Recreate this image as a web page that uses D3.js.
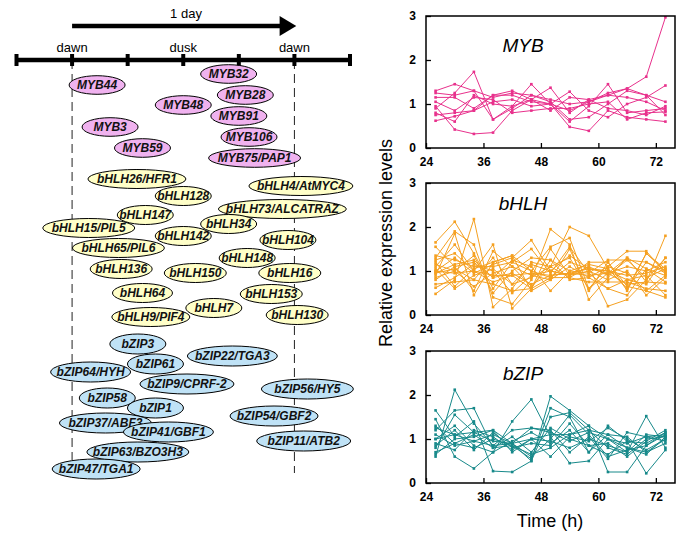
<!DOCTYPE html>
<html><head><meta charset="utf-8">
<script src="https://cdn.jsdelivr.net/npm/d3@7/dist/d3.min.js"></script>
<style>
body{margin:0;background:#fff;}
svg{display:block;font-family:"Liberation Sans",Arial,sans-serif;}
</style></head>
<body><div id="chart"></div>
<script>
// ---------- DATA ----------
const timeHours = [26,30,34,38,42,46,50,54,58,62,66,70,74];
const xTickValues = [24,36,48,60,72];
const yTickValues = [0,1,2,3];
const phaseTicks = [-6,0,6,12,18,24,30];
const phaseLabels = [{h:0,t:"dawn"},{h:12,t:"dusk"},{h:24,t:"dawn"}];

const mybGenes  = ["MYB32","MYB44","MYB28","MYB48","MYB91","MYB3","MYB106","MYB59","MYB75/PAP1"];
const mybPhase  = [16.9, 2.7, 18.7, 12.0, 18.0, 4.1, 19.1, 7.6, 19.7];
const bhlhGenes = ["bHLH26/HFR1","bHLH4/AtMYC4","bHLH128","bHLH73/ALCATRAZ","bHLH147","bHLH34","bHLH15/PIL5","bHLH142","bHLH104","bHLH65/PIL6","bHLH148","bHLH136","bHLH150","bHLH16","bHLH64","bHLH153","bHLH7","bHLH130","bHLH9/PIF4"];
const bhlhPhase = [7.0, 24.7, 12.0, 22.7, 7.9, 16.9, 1.8, 12.0, 23.3, 5.0, 18.9, 5.3, 13.3, 23.5, 7.6, 21.5, 15.3, 24.3, 8.5];
const bzipGenes = ["bZIP3","bZIP22/TGA3","bZIP61","bZIP64/HYH","bZIP9/CPRF-2","bZIP56/HY5","bZIP58","bZIP1","bZIP54/GBF2","bZIP37/ABF3","bZIP41/GBF1","bZIP11/ATB2","bZIP63/BZO3H3","bZIP47/TGA1"];
const bzipPhase = [7.1, 17.3, 9.0, 2.0, 12.4, 25.4, 3.8, 9.0, 21.8, 3.6, 10.4, 25.0, 7.1, 2.6];

const mybSeries = [
 [1.25,1.20,1.30,1.15,1.25,1.20,1.10,1.00,1.05,1.25,1.35,1.62,2.97],
 [0.90,1.25,1.73,0.65,0.90,1.20,1.05,0.65,0.70,1.00,1.30,1.20,0.75],
 [0.95,0.42,0.32,0.35,0.85,1.10,1.00,0.85,1.05,1.20,1.35,1.20,1.05],
 [1.30,1.45,1.30,0.65,0.95,1.45,1.00,0.60,0.95,1.45,0.80,0.85,0.90],
 [0.75,0.80,0.85,1.20,1.30,1.10,1.37,0.80,1.10,1.20,1.15,1.05,0.85],
 [0.62,0.72,0.85,1.05,1.10,0.95,1.00,1.28,0.85,0.70,1.00,1.15,1.42],
 [1.15,1.15,0.90,1.20,1.20,1.05,1.00,0.48,0.39,0.85,0.70,0.65,0.60],
 [1.05,0.85,1.15,1.10,0.80,0.85,0.90,0.90,1.00,1.05,0.65,0.80,0.82],
 [0.80,0.60,1.20,1.00,0.95,1.10,0.85,1.15,1.10,0.90,0.85,0.75,0.95]
];
const bhlhSeries = [
 [1.65,2.12,1.40,0.60,1.20,1.00,1.55,1.75,0.60,1.10,1.45,1.45,0.95],
 [1.30,1.90,1.60,0.40,0.25,0.80,1.95,1.60,0.35,0.85,1.30,0.75,1.80],
 [0.48,0.80,2.18,0.18,0.60,1.20,1.10,2.00,1.80,1.05,0.60,1.20,1.00],
 [1.10,1.60,1.00,1.60,0.15,0.60,1.50,0.90,1.10,0.20,0.35,0.80,1.30],
 [0.90,1.85,0.45,1.20,1.35,0.55,0.80,1.50,0.55,1.20,0.55,1.40,1.00],
 [1.00,1.30,0.95,1.15,1.30,1.70,1.00,0.90,1.00,0.80,1.00,0.45,0.85],
 [1.20,0.65,1.05,1.20,1.35,1.00,0.85,1.20,1.05,1.00,0.80,0.70,1.30],
 [0.80,1.10,1.20,0.85,0.95,0.70,0.90,0.95,1.05,0.95,1.10,1.00,1.20],
 [1.05,0.60,0.90,1.05,0.70,0.85,1.10,1.30,0.60,0.95,1.30,1.05,0.75],
 [0.95,1.15,1.25,0.85,1.25,1.10,0.55,1.00,0.95,0.60,0.80,0.90,0.45],
 [1.35,1.25,1.10,1.10,1.20,1.50,0.95,1.55,0.95,1.25,1.25,1.20,0.95],
 [0.70,0.75,0.80,0.70,0.55,0.60,0.85,0.85,0.75,0.75,0.75,0.60,0.55],
 [1.55,1.10,0.55,1.45,1.10,0.90,1.00,1.35,1.05,1.00,0.90,0.95,1.10],
 [0.85,1.00,1.35,0.50,1.00,1.30,1.25,0.80,0.85,1.10,0.95,0.55,0.90],
 [1.00,0.95,1.00,0.90,0.90,0.95,0.90,0.95,0.90,0.95,0.70,0.75,0.72],
 [1.15,1.00,0.65,0.95,1.10,0.65,1.10,0.85,1.10,0.90,1.25,0.85,1.05],
 [0.62,0.85,1.15,1.00,0.50,0.90,0.80,1.10,0.85,0.60,0.45,1.05,0.90],
 [1.25,1.40,1.00,0.75,0.90,0.60,1.25,1.00,1.15,1.05,0.60,1.40,1.05],
 [0.95,1.05,0.80,1.30,0.70,1.15,1.00,0.90,1.20,1.20,0.65,0.55,0.40]
];
const bzipSeries = [
 [1.65,1.05,1.40,0.27,0.25,0.50,1.97,1.65,1.30,0.25,0.25,0.85,1.15],
 [0.60,2.12,1.35,0.85,0.90,0.60,1.00,1.55,1.10,0.60,0.75,0.85,1.10],
 [1.45,0.60,0.33,0.70,1.40,1.90,1.05,0.45,0.50,1.00,0.70,1.52,0.80],
 [1.20,1.65,1.70,0.80,0.85,0.55,1.70,1.50,0.70,1.30,0.95,0.22,0.75],
 [0.80,1.55,1.15,1.20,0.90,0.50,1.50,1.60,1.20,1.10,0.80,0.65,1.05],
 [1.00,1.10,1.15,0.95,0.90,1.00,1.10,1.10,1.30,1.00,0.80,0.70,1.00],
 [1.30,0.90,0.80,1.00,0.85,0.65,0.80,1.10,1.20,0.80,0.65,1.00,1.05],
 [0.65,1.00,1.05,1.20,0.70,1.00,0.60,1.05,0.95,1.25,1.00,0.75,1.00],
 [1.10,0.85,0.95,0.85,1.20,1.25,1.20,0.70,1.05,0.55,1.15,1.05,1.10],
 [0.85,1.20,0.75,1.15,0.80,0.90,0.85,1.35,0.85,0.90,0.60,0.95,1.20],
 [1.25,1.10,0.95,1.10,0.90,1.25,1.15,0.95,1.15,1.00,0.90,1.05,0.95],
 [0.70,0.90,1.10,0.80,1.05,0.70,1.25,1.00,0.85,0.65,0.95,0.90,1.15],
 [1.00,1.30,0.85,0.70,0.95,1.15,0.90,1.20,0.70,1.10,1.05,0.70,0.90],
 [0.90,0.75,1.20,1.05,0.75,1.00,0.95,0.80,1.00,0.85,0.70,1.10,1.05]
];

// ---------- LAYOUT (vertical slot y, half-width rx) ----------
const mybLayout  = [[74,28],[85,28],[95,28],[105,28],[116,28],[127,28],[137,28],[148,28],[158,46]];
const bhlhLayout = [[179,49],[186,52],[196,28],[209,64],[215,28],[224,28],[228,46],[236,28],[240,28],[248,46],[258,28],[269,31],[273,31],[273,31],[293,30],[294,31],[308,28],[315,31],[317,39]];
const bzipLayout = [[344,28],[356,45],[364,28],[372,40],[384,47],[389,46],[398,28],[408,28],[416,44],[423,46],[432,45],[441,47],[452,51],[469,44]];

// ---------- DRAW ----------
const W=685,H=539;
const svg=d3.select("#chart").append("svg").attr("width",W).attr("height",H);
const FONT='"Liberation Sans",Arial,sans-serif';

// timeline diagram
const hx=d3.scaleLinear().domain([-6,30]).range([16.5,350]);
const tl=svg.append("g");
// dashed lines
tl.append("line").attr("x1",hx(0)).attr("x2",hx(0)).attr("y1",60).attr("y2",460)
  .attr("stroke","#222").attr("stroke-width",1).attr("stroke-dasharray","9,5");
tl.append("line").attr("x1",hx(24)).attr("x2",hx(24)).attr("y1",60).attr("y2",473)
  .attr("stroke","#222").attr("stroke-width",1).attr("stroke-dasharray","9,5");
// arrow
tl.append("line").attr("x1",hx(0)).attr("x2",hx(22.6)).attr("y1",26).attr("y2",26)
  .attr("stroke","#000").attr("stroke-width",4.5);
tl.append("path").attr("d",`M${hx(22.4)},16 L${hx(24.2)},26 L${hx(22.4)},36 Z`).attr("fill","#000");
tl.append("text").attr("x",hx(12.3)).attr("y",18).attr("text-anchor","middle")
  .attr("font-size",13).text("1 day");
// axis line
tl.append("line").attr("x1",hx(-6)).attr("x2",hx(30)).attr("y1",60).attr("y2",60)
  .attr("stroke","#000").attr("stroke-width",4.5);
tl.selectAll("rect.tk").data(phaseTicks).enter().append("rect")
  .attr("x",d=>hx(d)-2).attr("y",54).attr("width",4).attr("height",12).attr("fill","#000");
tl.selectAll("text.pl").data(phaseLabels).enter().append("text")
  .attr("x",d=>hx(d.h)).attr("y",52).attr("text-anchor","middle").attr("font-size",13).text(d=>d.t);

function drawBubbles(genes,phases,layout,fill,ry){
  const g=svg.append("g");
  const items=genes.map((n,i)=>({n,p:phases[i],y:layout[i][0],rx:layout[i][1]}));
  items.forEach(d=>{
    const gg=g.append("g").attr("transform",`translate(${hx(d.p)},${d.y})`);
    gg.append("ellipse").attr("rx",d.rx).attr("ry",ry).attr("fill",fill)
      .attr("stroke","#000").attr("stroke-width",1);
    gg.append("text").attr("text-anchor","middle").attr("dy","0.36em")
      .attr("font-size",12).attr("font-weight","bold").attr("font-style","italic")
      .attr("fill","#111").text(d.n);
  });
}
drawBubbles(mybGenes,mybPhase,mybLayout,"#f0b2ef",9.3);
drawBubbles(bhlhGenes,bhlhPhase,bhlhLayout,"#ffffc8",9.5);
drawBubbles(bzipGenes,bzipPhase,bzipLayout,"#bfe2f6",10);

// line panels
const x=d3.scaleLinear().domain([24,76]).range([426,675]);
const panels=[
 {name:"MYB",series:mybSeries,color:"#e8318c",top:16,ty:52},
 {name:"bHLH",series:bhlhSeries,color:"#f5a020",top:183,ty:210},
 {name:"bZIP",series:bzipSeries,color:"#17898a",top:351,ty:380}
];
const PH=132;
panels.forEach(p=>{
  const y=d3.scaleLinear().domain([0,3]).range([p.top+PH,p.top]);
  const g=svg.append("g");
  const line=d3.line().x((d,i)=>x(timeHours[i])).y(d=>y(d));
  p.series.forEach(s=>{
    g.append("path").attr("d",line(s)).attr("fill","none").attr("stroke",p.color).attr("stroke-width",1);
    g.selectAll(null).data(s).enter().append("rect")
      .attr("x",(d,i)=>x(timeHours[i])-1.3).attr("y",d=>y(d)-1.3)
      .attr("width",2.6).attr("height",2.6).attr("fill",p.color);
  });
  // frame
  g.append("rect").attr("x",x(24)).attr("y",p.top).attr("width",x(76)-x(24)).attr("height",PH)
    .attr("fill","none").attr("stroke","#000").attr("stroke-width",1.5);
  // axes
  const xa=d3.axisBottom(x).tickValues(xTickValues).tickSize(-5).tickPadding(9).tickFormat(d3.format("d"));
  const gx=g.append("g").attr("transform",`translate(0,${p.top+PH})`).call(xa);
  gx.select(".domain").remove();
  gx.selectAll("line").attr("stroke","#000").attr("stroke-width",1.3);
  gx.selectAll("text").attr("font-size",12).attr("font-weight","bold").attr("font-family",FONT).attr("fill","#000");
  const ya=d3.axisLeft(y).tickValues(yTickValues).tickSize(-5).tickPadding(10).tickFormat(d3.format("d"));
  const gy=g.append("g").attr("transform",`translate(${x(24)},0)`).call(ya);
  gy.select(".domain").remove();
  gy.selectAll("line").attr("stroke","#000").attr("stroke-width",1.3);
  gy.selectAll("text").attr("font-size",12).attr("font-weight","bold").attr("font-family",FONT).attr("fill","#000");
  g.append("text").attr("x",523).attr("y",p.ty).attr("text-anchor","middle")
    .attr("font-size",19).attr("font-style","italic").text(p.name);
});
svg.append("text").attr("transform","translate(392,243) rotate(-90)").attr("text-anchor","middle")
  .attr("font-size",18).text("Relative expression levels");
svg.append("text").attr("x",550).attr("y",527).attr("text-anchor","middle")
  .attr("font-size",18).text("Time (h)");
</script></body></html>
